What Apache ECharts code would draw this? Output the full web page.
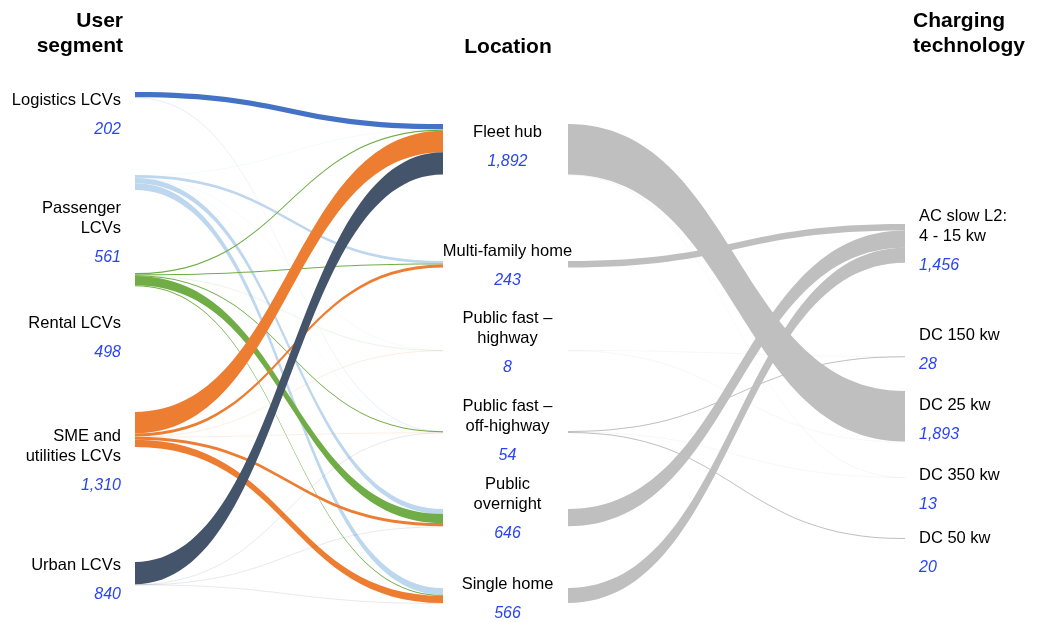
<!DOCTYPE html>
<html>
<head>
<meta charset="utf-8">
<script src="https://cdn.jsdelivr.net/npm/echarts@6/dist/echarts.min.js"></script>
<style>
    html, body { margin: 0; padding: 0; background: #fff; }
    #chart { width: 1037px; height: 622px; }
</style>
</head>
<body>
<div id="chart"></div>
<script>
// 数据 ==========================================
const segments = ['Logistics LCVs', 'Passenger LCVs', 'Rental LCVs', 'SME and utilities LCVs', 'Urban LCVs'];
const segmentLabels = ['Logistics LCVs', 'Passenger\nLCVs', 'Rental LCVs', 'SME and\nutilities LCVs', 'Urban LCVs'];
const segmentTotals = [202, 561, 498, 1310, 840];

const locations = ['Fleet hub', 'Multi-family home', 'Public fast – highway', 'Public fast – off-highway', 'Public overnight', 'Single home'];
const locationLabels = ['Fleet hub', 'Multi-family home', 'Public fast –\nhighway', 'Public fast –\noff-highway', 'Public\novernight', 'Single home'];
const locationTotals = [1892, 243, 8, 54, 646, 566];

const technologies = ['AC slow L2: 4 - 15 kw', 'DC 150 kw', 'DC 25 kw', 'DC 350 kw', 'DC 50 kw'];
const technologyLabels = ['AC slow L2:\n4 - 15 kw', 'DC 150 kw', 'DC 25 kw', 'DC 350 kw', 'DC 50 kw'];
const technologyTotals = [1456, 28, 1893, 13, 20];

// rows: segments, cols: locations
const segmentToLocation = [
    [200, 0, 0, 2, 0, 0],
    [2, 98, 4, 12, 190, 255],
    [55, 30, 2, 30, 339, 40],
    [802, 115, 2, 6, 115, 270],
    [832, 0, 0, 4, 2, 1]
];
// rows: locations, cols: technologies
const locationToTechnology = [
    [0, 0, 1891, 1, 0],
    [243, 0, 0, 0, 0],
    [0, 6, 2, 0, 0],
    [0, 22, 0, 12, 20],
    [646, 0, 0, 0, 0],
    [566, 0, 0, 0, 0]
];

// 样式 / 布局 ========================================
const segmentColors = ['#4472C4', '#BDD7EE', '#70AD47', '#ED7D31', '#44546A'];
const locationColor = '#BFBFBF';
const valueColor = '#2B45EE';

const areaLeft = 10, areaWidth = 1020, areaHeight = 622;
const columnX = [10, 443, 905];
const segmentY = [92, 175, 273, 412, 562];
const locationY = [124, 261, 350, 431, 509, 588];
const technologyY = [224, 356, 391, 477, 538];
const segmentLabelShift = [25, 55, 63, 36, 11];
const locationLabelShift = [2, 6, -3, 4, -4, 8];
const technologyLabelShift = [2, -2, 8, 17, 19];

const displayName = {};
segments.forEach((n, i) => displayName[n] = segmentLabels[i]);
locations.forEach((n, i) => displayName[n] = locationLabels[i]);
technologies.forEach((n, i) => displayName[n] = technologyLabels[i]);

function makeNode(name, value, col, y, shift, labelPos) {
    return {
        name: name,
        value: value,
        depth: col,
        localX: (columnX[col] - areaLeft) / areaWidth,
        localY: y / areaHeight,
        itemStyle: { color: 'rgba(0,0,0,0)', borderWidth: 0 },
        label: {
            position: labelPos.position,
            distance: labelPos.distance,
            offset: [labelPos.dx || 0, shift]
        }
    };
}

const nodes = [];
segments.forEach((n, i) => nodes.push(makeNode(n, segmentTotals[i], 0, segmentY[i], segmentLabelShift[i],
    { position: 'insideRight', distance: 14 })));
locations.forEach((n, i) => nodes.push(makeNode(n, locationTotals[i], 1, locationY[i], locationLabelShift[i],
    { position: 'inside', distance: 0, dx: 2 })));
technologies.forEach((n, i) => nodes.push(makeNode(n, technologyTotals[i], 2, technologyY[i], technologyLabelShift[i],
    { position: 'insideLeft', distance: 14 })));

// 很小的流量在原图里几乎看不见
function linkStyle(color, value) {
    return { color: color, opacity: value < 15 ? 0.13 : 1 };
}

const links = [];
segmentToLocation.forEach((row, i) => {
    row.forEach((v, j) => {
        if (v > 0) links.push({ source: segments[i], target: locations[j], value: v, lineStyle: linkStyle(segmentColors[i], v) });
    });
});
locationToTechnology.forEach((row, i) => {
    row.forEach((v, j) => {
        if (v > 0) links.push({ source: locations[i], target: technologies[j], value: v, lineStyle: linkStyle(locationColor, v) });
    });
});

const headerFont = 'bold 21px "Liberation Sans", Arial, sans-serif';

const chart = echarts.init(document.getElementById('chart'));
chart.setOption({
    backgroundColor: '#fff',
    animation: false,
    graphic: [
        { type: 'text', x: 123, y: 34, style: { text: 'User\nsegment', font: headerFont, fill: '#000', align: 'right', verticalAlign: 'middle', lineHeight: 25 } },
        { type: 'text', x: 508, y: 47, style: { text: 'Location', font: headerFont, fill: '#000', align: 'center', verticalAlign: 'middle' } },
        { type: 'text', x: 913, y: 34, style: { text: 'Charging\ntechnology', font: headerFont, fill: '#000', align: 'left', verticalAlign: 'middle', lineHeight: 25 } }
    ],
    series: [{
        type: 'sankey',
        left: areaLeft,
        right: 1037 - areaLeft - areaWidth,
        top: 0,
        bottom: 0,
        nodeWidth: 125,
        nodeGap: 106.2,
        layoutIterations: 0,
        draggable: false,
        emphasis: { disabled: true },
        data: nodes,
        links: links,
        lineStyle: { curveness: 0.5 },
        label: {
            show: true,
            formatter: p => '{n|' + displayName[p.name] + '}\n{v|' + p.value.toLocaleString('en-US') + '}',
            rich: {
                n: { fontFamily: '"Liberation Sans", Arial, sans-serif', fontSize: 16.5, color: '#000', lineHeight: 20 },
                v: { fontFamily: '"Liberation Sans", Arial, sans-serif', fontSize: 16, fontStyle: 'italic', color: valueColor, lineHeight: 38 }
            }
        }
    }]
});
</script>
</body>
</html>
